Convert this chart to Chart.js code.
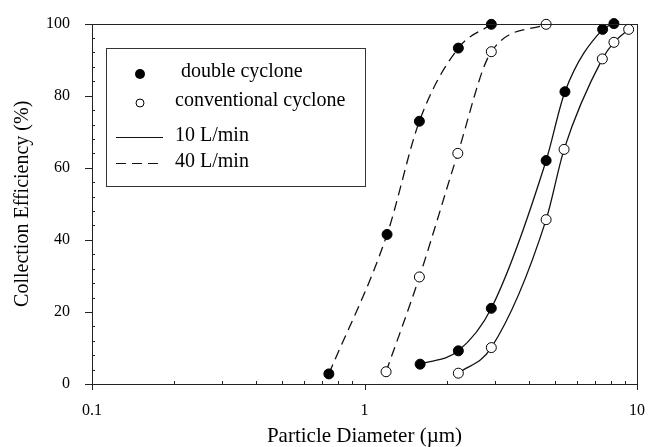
<!DOCTYPE html>
<html>
<head>
<meta charset="utf-8">
<script src="https://cdn.jsdelivr.net/npm/chart.js@4.4.1/dist/chart.umd.min.js"></script>
<style>
html,body{margin:0;padding:0;background:#fff;}
#wrap{width:658px;height:447px;}
</style>
</head>
<body>
<div id="wrap"><canvas id="c" width="658" height="447"></canvas></div>
<script>
const dbl40X = [0.74, 1.21, 1.59, 2.21, 2.92];
const dbl40Y = [2.8, 41.5, 72.9, 93.2, 99.8];
const conv40X = [1.20, 1.59, 2.20, 2.92, 4.64];
const conv40Y = [3.4, 29.7, 64.0, 92.2, 99.8];
const dbl10X = [1.60, 2.21, 2.92, 4.64, 5.44, 7.48, 8.23];
const dbl10Y = [5.5, 9.2, 21.0, 62.0, 81.1, 98.4, 100];
const conv10X = [2.21, 2.92, 4.64, 5.40, 7.46, 8.23, 9.32];
const conv10Y = [3.0, 10.1, 45.6, 65.1, 90.2, 94.8, 98.4];

const xTickLabels = [0.1, 1, 10];
const yTickLabels = [0, 20, 40, 60, 80, 100];
const legendLabels = ['double cyclone', 'conventional cyclone', '10 L/min', '40 L/min'];

const FONT = '"Liberation Serif", "Times New Roman", serif';
const pts = (xs, ys) => xs.map((x, i) => ({x: x, y: ys[i]}));

function ds(xs, ys, filled, dashed) {
  return {
    data: pts(xs, ys),
    showLine: true,
    borderColor: '#111',
    borderWidth: 1.3,
    borderDash: dashed ? [10, 6] : [],
    cubicInterpolationMode: 'monotone',
    pointRadius: 5,
    pointHoverRadius: 5,
    pointBackgroundColor: filled ? '#000' : '#fff',
    pointBorderColor: '#000',
    pointBorderWidth: 1,
    clip: false
  };
}

const frame = {
  id: 'frame',
  afterDraw(chart) {
    const ctx = chart.ctx;
    const a = chart.chartArea;
    const xs = chart.scales.x, ys = chart.scales.y;
    ctx.save();
    ctx.strokeStyle = '#222';
    ctx.lineWidth = 1;
    ctx.setLineDash([]);
    ctx.strokeRect(Math.round(a.left) + 0.5, Math.round(a.top) + 0.5, Math.round(a.right - a.left), Math.round(a.bottom - a.top));
    // y ticks
    for (let v = 0; v <= 100; v += 4) {
      const y = Math.round(ys.getPixelForValue(v)) + 0.5;
      ctx.beginPath();
      if (v % 20 === 0) { ctx.moveTo(a.left - 7, y); ctx.lineTo(a.left, y); }
      else { ctx.moveTo(a.left, y); ctx.lineTo(a.left + 3, y); }
      ctx.stroke();
    }
    // x ticks
    for (let d = 0.1; d < 10.5; d *= 10) {
      for (let m = 1; m <= 9; m++) {
        const v = d * m;
        if (v > 10.001) break;
        const x = Math.round(xs.getPixelForValue(v)) + 0.5;
        ctx.beginPath();
        if (m === 1) { ctx.moveTo(x, a.bottom); ctx.lineTo(x, a.bottom + 6); }
        else { ctx.moveTo(x, a.bottom); ctx.lineTo(x, a.bottom - 3); }
        ctx.stroke();
      }
    }
    const x10 = Math.round(xs.getPixelForValue(10)) + 0.5;
    ctx.beginPath(); ctx.moveTo(x10, a.bottom); ctx.lineTo(x10, a.bottom + 6); ctx.stroke();

    // legend
    ctx.strokeStyle = '#333';
    ctx.strokeRect(106.5, 48.5, 259, 138);
    ctx.fillStyle = '#000';
    ctx.beginPath(); ctx.arc(140, 74, 5, 0, Math.PI * 2); ctx.fill();
    ctx.fillStyle = '#fff';
    ctx.beginPath(); ctx.arc(140, 103, 4, 0, Math.PI * 2); ctx.fill();
    ctx.strokeStyle = '#000';
    ctx.stroke();
    ctx.strokeStyle = '#111';
    ctx.lineWidth = 1.2;
    ctx.beginPath(); ctx.moveTo(116, 137.5); ctx.lineTo(163, 137.5); ctx.stroke();
    ctx.setLineDash([10, 6]);
    ctx.beginPath(); ctx.moveTo(116, 163.5); ctx.lineTo(163, 163.5); ctx.stroke();
    ctx.setLineDash([]);
    ctx.fillStyle = '#000';
    ctx.font = '20px ' + FONT;
    ctx.textBaseline = 'middle';
    ctx.textAlign = 'left';
    ctx.fillText(legendLabels[0], 181, 72);
    ctx.fillText(legendLabels[1], 175, 101);
    ctx.fillText(legendLabels[2], 175, 136);
    ctx.fillText(legendLabels[3], 175, 162);
    ctx.restore();
  }
};

new Chart(document.getElementById('c'), {
  type: 'scatter',
  data: {
    datasets: [
      ds(dbl40X, dbl40Y, true, true),
      ds(conv40X, conv40Y, false, true),
      ds(dbl10X, dbl10Y, true, false),
      ds(conv10X, conv10Y, false, false)
    ]
  },
  options: {
    responsive: false,
    animation: false,
    devicePixelRatio: 1,
    layout: {padding: {left: 0, right: 21, top: 18, bottom: 0}},
    plugins: {legend: {display: false}, tooltip: {enabled: false}},
    scales: {
      x: {
        type: 'logarithmic',
        min: 0.1, max: 10,
        afterFit(s) { s.height = 63; },
        afterBuildTicks(s) { s.ticks = xTickLabels.map(v => ({value: v})); },
        grid: {display: false},
        border: {display: false},
        ticks: {
          color: '#000', font: {family: FONT, size: 16}, padding: 9,
          maxRotation: 0, autoSkip: false,
          callback: v => String(v)
        },
        title: {display: true, text: 'Particle Diameter (\u00b5m)', color: '#000',
          font: {family: FONT, size: 21, lineHeight: 1}, padding: {top: 0, bottom: 0}}
      },
      y: {
        min: 0, max: 100,
        afterFit(s) { s.width = 92; },
        afterBuildTicks(s) { s.ticks = yTickLabels.map(v => ({value: v})); },
        grid: {display: false},
        border: {display: false},
        ticks: {color: '#000', font: {family: FONT, size: 16}, padding: 14},
        title: {display: true, text: 'Collection Efficiency (%)', color: '#000',
          font: {family: FONT, size: 20, lineHeight: 1.2}, padding: {top: 11, bottom: 0}}
      }
    }
  },
  plugins: [frame]
});
</script>
</body>
</html>
